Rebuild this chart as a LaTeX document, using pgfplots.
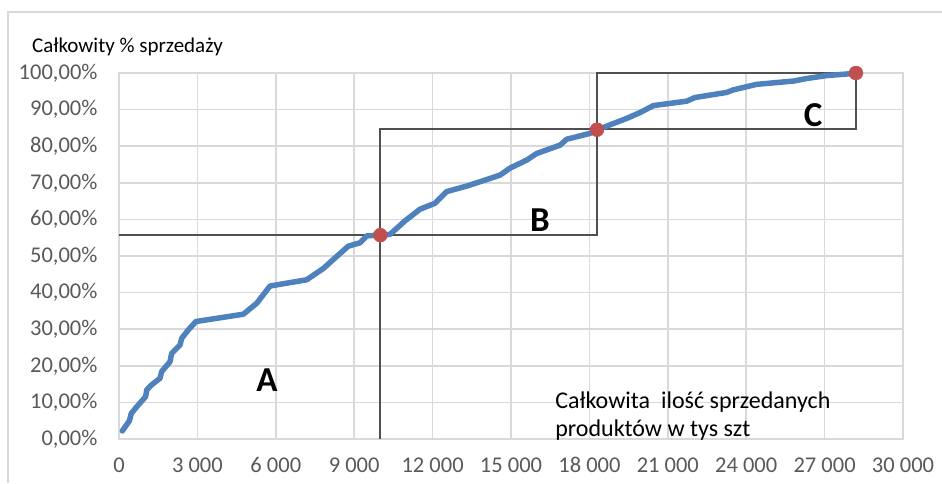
\documentclass[border=0pt]{standalone}
\usepackage{fontspec}
\setmainfont{Carlito}
\usepackage{pgfplots}
\pgfplotsset{compat=1.18}
\definecolor{gridc}{HTML}{D9D9D9}
\definecolor{tickc}{HTML}{595959}
\definecolor{lineblue}{HTML}{4F81BD}
\definecolor{dotred}{HTML}{C0504D}
\definecolor{boxc}{HTML}{505050}
\definecolor{framec}{HTML}{D9D9D9}
\begin{document}
\begin{tikzpicture}[x=1pt,y=1pt]
% bounding box in picture pixels relative to axis origin (119,439 px)
\path[use as bounding box] (-119,-44) rectangle (823,439);
\draw[framec,line width=1.2pt] (-111,-44) -- (-111,427) -- (823,427);
\begin{axis}[
  at={(0,0)}, anchor=origin,
  scale only axis, width=784pt, height=366pt,
  xmin=0, xmax=30000, ymin=0, ymax=100,
  xtick={0,3000,...,30000},
  xticklabels={0,3~000,6~000,9~000,12~000,15~000,18~000,21~000,24~000,27~000,30~000},
  ytick={0,10,...,100},
  yticklabels={{0,00\%},{10,00\%},{20,00\%},{30,00\%},{40,00\%},{50,00\%},{60,00\%},{70,00\%},{80,00\%},{90,00\%},{100,00\%}},
  grid=major,
  major grid style={gridc,line width=1.6pt},
  axis line style={gridc,line width=1.6pt},
  tick style={draw=none},
  ticklabel style={font=\fontsize{22.5}{26}\selectfont, text=tickc},
  xticklabel style={yshift=-15pt},
  yticklabel style={xshift=-18pt},
  clip=false,
]
\addplot[boxc, line width=1.8pt] coordinates {
 (0,55.8) (18300,55.8) (18300,100) (28200,100) (28200,84.6) (10000,84.6) (10000,0)
};
\addplot[lineblue, line width=5.5pt, line join=round, line cap=round] coordinates {
 (126,2.2) (400,5.0) (470,7.0) (677,8.8) (1020,11.6) (1060,13.4) (1250,14.8)
 (1570,16.6) (1630,18.4) (1950,21.1) (2015,23.4) (2335,25.7) (2400,27.5)
 (2650,29.8) (2945,32.1) (4760,34.1) (5270,37.1) (5780,41.8) (7180,43.5)
 (7820,46.6) (8460,50.7) (8775,52.7) (9220,53.6) (9480,55.5) (10370,55.9)
 (10945,59.6) (11520,62.8) (12090,64.4) (12540,67.6) (13300,69.1) (13820,70.3)
 (14580,72.1) (14960,74.0) (15600,76.2) (15980,78.0) (16880,80.3) (17130,81.9)
 (18020,83.5) (18280,84.4) (18920,86.2) (19430,87.6) (19940,89.2) (20450,91.1)
 (21720,92.3) (22040,93.3) (23260,94.7) (23510,95.4) (24400,96.9) (25810,97.8)
 (26320,98.5) (27080,99.3) (28170,99.9)
};
\addplot[only marks, mark=*, mark size=7pt, dotred, mark options={draw=dotred,fill=dotred}] coordinates {
 (10000,55.7) (18290,84.5) (28200,100)
};
\node[font=\fontsize{35}{38}\bfseries\selectfont] at (axis cs:5660,16.1) {A};
\node[font=\fontsize{35}{38}\bfseries\selectfont] at (axis cs:16110,59.8) {B};
\node[font=\fontsize{35}{38}\bfseries\selectfont] at (axis cs:26560,88.5) {C};
\node[font=\fontsize{24}{28}\selectfont, anchor=base west, inner sep=0pt] at (axis cs:16690,8.47) {Całkowita\ \ ilość sprzedanych};
\node[font=\fontsize{24}{28}\selectfont, anchor=base west, inner sep=0pt] at (axis cs:16690,0.82) {produktów w tys szt};
\node[font=\fontsize{21}{24}\selectfont, anchor=base west, inner sep=0pt] at (axis cs:-3330,105.7) {Całkowity \% sprzedaży};
\end{axis}
\end{tikzpicture}
\end{document}
